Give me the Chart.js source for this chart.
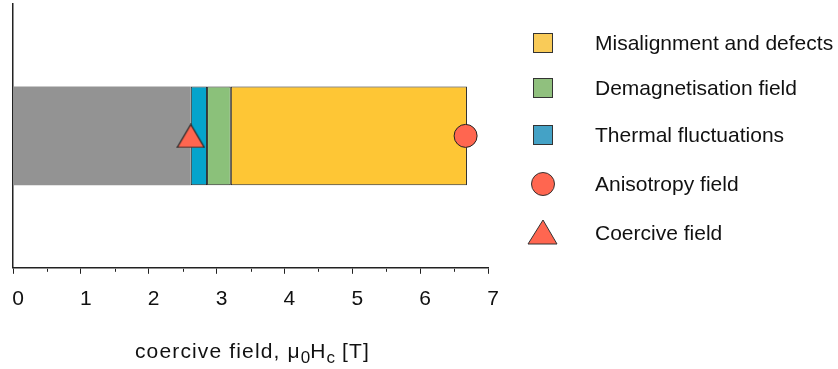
<!DOCTYPE html>
<html><head><meta charset="utf-8">
<script src="https://cdn.jsdelivr.net/npm/chart.js@4/dist/chart.umd.min.js"></script>
<style>
html,body{margin:0;padding:0;background:#fff;}
#wrap{position:relative;width:838px;height:369px;overflow:hidden;font-family:'Liberation Sans',Arial,Helvetica,sans-serif;color:#111;}
#c{position:absolute;left:0;top:0;}
#xtitle{position:absolute;left:0;width:505px;top:339px;text-align:center;font-size:21px;letter-spacing:1.15px;line-height:24px;white-space:nowrap;}
#xtitle sub{font-size:17px;vertical-align:-5px;line-height:0;letter-spacing:0;}
#legend{position:absolute;left:525px;top:0;}
.li{position:absolute;left:0;height:30px;width:320px;}
.li svg{position:absolute;left:0;top:0;}
.li span{position:absolute;left:70px;top:3px;font-size:21px;line-height:24px;white-space:nowrap;}
</style></head>
<body>
<div id="wrap">
<canvas id="c" width="838" height="369"></canvas>
<div id="xtitle">coercive field, μ<sub>0</sub>H<sub>c</sub> [T]</div>
<div id="legend"></div>
</div>
<script>
// ---- data ----
const categories = ['magnet'];
const coerciveField = [2.62];          // grey base bar & triangle marker
const thermalFluctuations = [0.24];
const demagnetisationField = [0.35];
const misalignmentDefects = [3.48];
const anisotropyField = [6.67];
const xTicks = [0, 1, 2, 3, 4, 5, 6, 7];
const legendLabels = ['Misalignment and defects', 'Demagnetisation field', 'Thermal fluctuations', 'Anisotropy field', 'Coercive field'];

// ---- styles ----
const RED = '#FF6650';
const EDGE = '#222';

function triangleImage(w, h, fill) {
  const cv = document.createElement('canvas');
  cv.width = w; cv.height = h;
  const g = cv.getContext('2d');
  g.beginPath();
  g.moveTo(w / 2, 1);
  g.lineTo(w - 1, h - 1);
  g.lineTo(1, h - 1);
  g.closePath();
  g.fillStyle = fill; g.fill();
  g.lineWidth = 1.2; g.strokeStyle = EDGE; g.stroke();
  return cv;
}

const minorTicks = {
  id: 'minorTicks',
  afterDraw(chart) {
    const s = chart.scales.x, ctx = chart.ctx;
    ctx.save();
    ctx.strokeStyle = EDGE; ctx.lineWidth = 1;
    for (let i = 0; i < xTicks.length - 1; i++) {
      const v = (xTicks[i] + xTicks[i + 1]) / 2;
      const px = Math.round(s.getPixelForValue(v)) + 0.5;
      ctx.beginPath(); ctx.moveTo(px, s.top + 1); ctx.lineTo(px, s.top + 4); ctx.stroke();
    }
    ctx.restore();
  }
};

Chart.defaults.font.family = "'Liberation Sans', Arial, Helvetica, sans-serif";
Chart.defaults.font.size = 21;
Chart.defaults.color = '#111';

const barCommon = { indexAxis: 'y', barPercentage: 0.375, categoryPercentage: 1, borderSkipped: false, order: 2 };

new Chart(document.getElementById('c'), {
  type: 'bar',
  data: {
    labels: categories,
    datasets: [
      Object.assign({ label: 'Coercive', data: coerciveField, backgroundColor: '#939393', borderWidth: 0 }, barCommon),
      Object.assign({ label: legendLabels[2], data: thermalFluctuations, backgroundColor: '#05A4CC', borderColor: EDGE, borderWidth: 1 }, barCommon),
      Object.assign({ label: legendLabels[1], data: demagnetisationField, backgroundColor: '#8BC17A', borderColor: EDGE, borderWidth: 1 }, barCommon),
      Object.assign({ label: legendLabels[0], data: misalignmentDefects, backgroundColor: '#FEC635', borderColor: EDGE, borderWidth: 1 }, barCommon),
      { type: 'line', indexAxis: 'y', label: legendLabels[3], data: anisotropyField, stack: 'p1', showLine: false,
        pointStyle: 'circle', pointRadius: 11.5, pointBackgroundColor: RED, pointBorderColor: EDGE, pointBorderWidth: 1, order: 1 },
      { type: 'line', indexAxis: 'y', label: legendLabels[4], data: coerciveField, stack: 'p2', showLine: false,
        pointStyle: triangleImage(29, 25, RED), pointRadius: 14, order: 0 }
    ]
  },
  options: {
    indexAxis: 'y',
    responsive: false,
    animation: false,
    layout: { autoPadding: false, padding: { left: 13, right: 350, top: 4, bottom: 44 } },
    plugins: { legend: { display: false }, tooltip: { enabled: false } },
    scales: {
      x: {
        type: 'linear', stacked: true, min: xTicks[0], max: xTicks[xTicks.length - 1],
        afterBuildTicks: (s) => { s.ticks = xTicks.map(v => ({ value: v })); },
        afterFit: (s) => { s.paddingLeft = 0; s.paddingRight = 0; },
        ticks: { padding: 13, labelOffset: 5, color: '#111', font: { size: 21 } },
        grid: { display: true, drawOnChartArea: false, drawTicks: true, tickLength: 6, color: EDGE },
        border: { display: true, color: EDGE, width: 1.5 }
      },
      y: {
        type: 'category', stacked: true,
        afterFit: (s) => { s.width = 0; s.paddingTop = 0; s.paddingBottom = 0; },
        ticks: { display: false },
        grid: { display: true, drawOnChartArea: false, drawTicks: false },
        border: { display: true, color: EDGE, width: 1.5 }
      }
    }
  },
  plugins: [minorTicks]
});

// ---- HTML legend built from the label list ----
const legendMarkers = [
  '<svg width="40" height="30"><rect x="8.5" y="5.5" width="19" height="19" fill="#F9CB58" stroke="#333" stroke-width="1"/></svg>',
  '<svg width="40" height="30"><rect x="8.5" y="5.5" width="19" height="19" fill="#90C07E" stroke="#333" stroke-width="1"/></svg>',
  '<svg width="40" height="30"><rect x="8.5" y="5.5" width="19" height="19" fill="#44A2C6" stroke="#333" stroke-width="1"/></svg>',
  '<svg width="40" height="30"><circle cx="18" cy="15" r="11.5" fill="#FF6650" stroke="#333" stroke-width="1"/></svg>',
  '<svg width="40" height="30"><polygon points="18,2 32,26 3,26" fill="#FF6650" stroke="#333" stroke-width="1"/></svg>'
];
const rowCentres = [43, 88, 135, 184, 233];
const leg = document.getElementById('legend');
legendLabels.forEach((lab, i) => {
  const d = document.createElement('div');
  d.className = 'li';
  d.style.top = (rowCentres[i] - 15) + 'px';
  d.innerHTML = legendMarkers[i] + '<span>' + lab + '</span>';
  leg.appendChild(d);
});
</script>
</body></html>
